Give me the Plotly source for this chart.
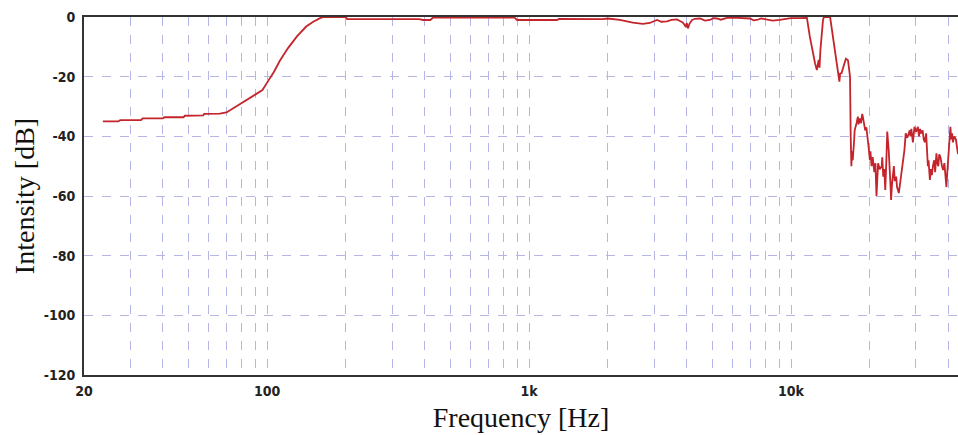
import math
import plotly.graph_objects as go

# ---- data ----
freq_hz = [
    23.6, 27, 27.5, 33, 33.5, 40, 40.5, 48, 48.5, 57, 57.5, 66, 70, 80, 90, 96, 100, 106,
    112, 120, 130, 141, 150, 160, 165, 200, 202, 300, 380, 394, 420, 430, 600, 880, 900,
    1100, 1280, 1300, 1500, 1700, 1900, 2000, 2220, 2490, 2720, 2890, 3080, 3200, 3360,
    3500, 3670, 3800, 3860, 3920, 3970, 4000, 4040, 4100, 4190, 4300, 4490, 4700, 4900,
    5050, 5210, 5400, 5690, 6000, 6970, 7200, 7410, 7700, 8090, 8500, 9060, 9640, 10000,
    10800, 11400, 11500, 11800, 12100, 12350, 12550, 12650, 12750, 12850, 12950, 13250,
    13350, 14100, 14500, 15000, 15300, 15400, 15600, 16000, 16200, 16500, 16600, 16800,
    16900, 17000, 17100, 17200, 17400, 17500, 17800, 18000, 18100, 18300, 18500, 18700,
    18800, 19000, 19200, 19400, 19600, 19800, 20000, 20100, 20300, 20500, 20800, 21000,
    21200, 21400, 21500, 21800, 22200, 22300, 22500, 22700, 22900, 23100, 23300, 23600,
    23800, 24000, 24100, 24300, 24700, 24900, 25200, 25400, 25800, 26000, 26300, 26700,
    26900, 27100, 27300, 27400, 27800, 28400, 28600, 28800, 29200, 29400, 29600, 30000,
    30500, 30800, 31100, 31400, 31800, 32100, 32400, 32800, 33000, 33300, 33500, 33900,
    34200, 34500, 34800, 35200, 35500, 35900, 36200, 36500, 36800, 37200, 37700, 38100,
    38500, 38900, 39200, 39500, 39800, 40200, 40600, 40900, 41200, 41500, 42000, 42600,
    43000, 43400,
]
intensity_db = [
    -35.0, -35.0, -34.6, -34.6, -34.0, -34.0, -33.6, -33.6, -33.1, -33.0, -32.5, -32.4,
    -32.0, -28.9, -26.0, -24.5, -22.0, -18.5, -14.6, -10.5, -6.5, -3.2, -1.6, -0.3, 0.0,
    0.0, -0.7, -0.7, -0.7, -1.0, -1.0, -0.2, -0.2, -0.2, -1.0, -1.0, -1.0, -0.6, -0.6,
    -0.8, -0.7, -0.5, -1.0, -1.9, -2.3, -2.0, -1.0, -1.6, -1.5, -1.0, -0.8, -1.5, -1.8,
    -2.6, -3.4, -2.0, -3.8, -2.2, -1.0, -0.6, -0.5, -1.2, -1.0, -0.4, -0.5, -0.9, -0.3,
    -0.2, -0.5, -1.1, -1.0, -0.5, -0.8, -1.2, -1.0, -0.5, -0.4, -0.4, -0.3, -0.3, -6.6,
    -12.0, -15.5, -17.8, -15.0, -14.4, -17.0, -11.0, -1.0, 0.0, 0.0, -7.7, -16.7, -21.7,
    -19.0, -18.8, -15.5, -14.0, -14.5, -16.0, -20.0, -40.0, -50.0, -45.0, -48.0, -42.0,
    -38.0, -35.5, -33.4, -36.0, -34.0, -35.6, -32.5, -33.4, -36.5, -38.0, -37.0, -40.0,
    -44.0, -48.0, -45.0, -50.0, -47.0, -52.0, -49.0, -60.0, -53.0, -49.0, -51.0, -50.0,
    -47.0, -53.5, -51.0, -58.0, -49.0, -38.4, -44.6, -54.6, -57.0, -61.3, -56.0, -50.0,
    -55.0, -53.5, -57.0, -59.0, -57.0, -53.5, -50.0, -47.0, -44.6, -41.0, -39.0, -40.5,
    -38.0, -40.0, -37.5, -42.0, -39.0, -36.8, -38.5, -36.8, -40.0, -37.5, -39.0, -38.0,
    -41.0, -42.0, -39.0, -46.0, -50.0, -48.0, -54.6, -51.0, -53.0, -50.0, -48.0, -52.0,
    -45.7, -49.0, -50.0, -46.0, -47.0, -50.0, -51.3, -49.0, -55.0, -57.0, -52.0, -48.0,
    -44.0, -36.8, -41.0, -39.0, -42.0, -40.0, -41.0, -44.0, -46.0,
]

x_grid_vals = [20, 30, 40, 50, 60, 70, 80, 90,
               100, 200, 300, 400, 500, 600, 700, 800, 900,
               1000, 2000, 3000, 4000, 5000, 6000, 7000, 8000, 9000,
               10000, 20000, 30000, 40000]
x_labels = {20: "20", 100: "100", 1000: "1k", 10000: "10k"}
y_ticks = [0, -20, -40, -60, -80, -100, -120]
x_min, x_max = 20, 43400

fig = go.Figure()
fig.add_trace(go.Scatter(
    x=freq_hz, y=intensity_db, mode="lines",
    line=dict(color="#c4242b", width=1.8),
    showlegend=False, hoverinfo="skip",
))

grid_color = "#b6b6e6"
tick_font = dict(family="DejaVu Sans Condensed, DejaVu Sans, Roboto", size=14,
                 color="#222222", weight="bold")

fig.update_layout(
    width=958, height=435,
    margin=dict(l=84, r=0, t=17, b=60, autoexpand=False),
    paper_bgcolor="white", plot_bgcolor="white",
    xaxis=dict(
        type="log", range=[math.log10(x_min), math.log10(x_max)],
        tickmode="array", tickvals=x_grid_vals,
        ticktext=[x_labels.get(v, "") for v in x_grid_vals],
        showgrid=True, gridcolor=grid_color, gridwidth=1, griddash="dash",
        showline=True, linecolor="#333333", linewidth=2, mirror=True,
        ticks="", tickfont=tick_font, ticklabelstandoff=2,
        zeroline=False,
        title=dict(text="Frequency [Hz]",
                   font=dict(family="Liberation Serif, Times New Roman, serif", size=28, color="#111111"),
                   standoff=10),
    ),
    yaxis=dict(
        range=[-120, 0], tickmode="array", tickvals=y_ticks,
        ticktext=[str(v) for v in y_ticks],
        showgrid=True, gridcolor=grid_color, gridwidth=1, griddash="dash",
        showline=True, linecolor="#333333", linewidth=2, mirror=False,
        ticks="", tickfont=tick_font, ticklabelstandoff=4,
        zeroline=False,
        title=dict(text="Intensity [dB]",
                   font=dict(family="Liberation Serif, Times New Roman, serif", size=28, color="#111111"),
                   standoff=1),
    ),
)

fig.write_html("out.html")
